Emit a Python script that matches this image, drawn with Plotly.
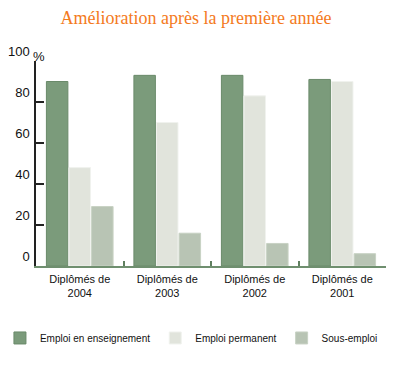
import plotly.graph_objects as go

categories = ["Diplômés de<br>2004", "Diplômés de<br>2003", "Diplômés de<br>2002", "Diplômés de<br>2001"]
series_names = ["Emploi en enseignement", "Emploi permanent", "Sous-emploi"]
enseignement = [90, 93, 93, 91]
permanent = [48, 70, 83, 90]
sous_emploi = [29, 16, 11, 6]
y_tick_vals = [0, 20, 40, 60, 80, 100]
y_tick_text = ["0", "20", "40", "60", "80", "100"]
title_text = "Amélioration après la première année"

colors = ["#7b9b7b", "#e1e4dc", "#b8c4b4"]
edge = ["#6a8a6a", "#f0f2ee", "#c8d2c4"]

fig = go.Figure()
for name, vals, c, e in zip(series_names, [enseignement, permanent, sous_emploi], colors, edge):
    fig.add_trace(go.Bar(x=categories, y=vals, name=name,
                         marker=dict(color=c, line=dict(color=e, width=1))))

fig.update_layout(
    width=400, height=366,
    margin=dict(l=36, r=14, t=61, b=100, autoexpand=False),
    paper_bgcolor="white", plot_bgcolor="white",
    barmode="group", bargap=0.225, bargroupgap=0.05,
    font=dict(family="Liberation Sans, Arial, sans-serif", color="#111111"),
    title=dict(text=title_text, x=0.49, xanchor="center", y=0.953, yanchor="middle",
               font=dict(family="Liberation Serif, Times New Roman, serif", size=18, color="#f47a1c")),
    showlegend=True,
    legend=dict(orientation="h", x=-0.103, xanchor="left", y=-0.351, yanchor="middle",
                font=dict(size=10, color="#111111"), itemwidth=30, tracegroupgap=0,
                bgcolor="rgba(0,0,0,0)", borderwidth=0),
    xaxis=dict(showgrid=False, zeroline=False, showline=True, linecolor="#6f8f6f", linewidth=1.5,
               ticks="inside", ticklen=5, tickcolor="#5f7f5f", tickwidth=1.5, tickson="boundaries",
               tickfont=dict(size=11, color="#111111"), ticklabelstandoff=2, automargin=False),
    yaxis=dict(range=[0, 100], showgrid=False, zeroline=False, showline=True, linecolor="#222222",
               linewidth=1.5, ticks="inside", ticklen=8, tickcolor="#222222", tickwidth=1.5,
               tickvals=y_tick_vals, ticktext=y_tick_text, tickfont=dict(size=13, color="#111111"),
               ticklabelposition="outside top", ticklabelstandoff=2, automargin=False),
)
fig.add_annotation(text="%", xref="paper", yref="y", x=0, y=100, xanchor="left", yanchor="bottom",
                   xshift=-5, yshift=-5, showarrow=False, font=dict(size=13, color="#111111"))

fig.write_html("out.html", config={"displayModeBar": False},
               post_script="document.body.style.margin='0px';")
